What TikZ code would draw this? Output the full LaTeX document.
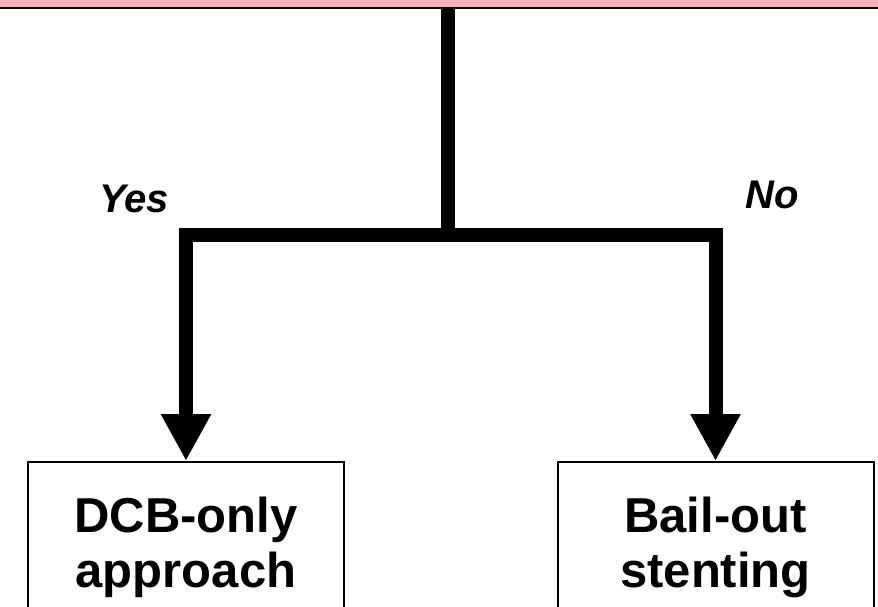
\documentclass[tikz,border=0pt]{standalone}
\usepackage{fontspec}
\setmainfont{Liberation Sans}
\usetikzlibrary{arrows.meta}
\definecolor{qpink}{RGB}{244,180,184}

\begin{document}
\begin{tikzpicture}[x=1pt, y=-1pt,
  box/.style = {draw, line width=2pt, anchor=north, minimum width=316pt,
                minimum height=170pt, inner ysep=24pt, align=center,
                font=\fontsize{49}{55}\selectfont\bfseries},
  answer/.style = {anchor=base, font=\fontsize{40}{44}\selectfont\bfseries\itshape},
  trunk/.style = {line width=14pt},
  branch/.style = {line width=14pt, -{Triangle[width=47pt,length=47pt]}}]

\useasboundingbox (0,0) rectangle (878,606);
\clip (0,0) rectangle (878,606);

%TOP
\node [draw, line width=2.5pt, fill=qpink, anchor=south, minimum width=900pt,
       minimum height=60pt] (question) at (439,9) {};

%SPLIT
\coordinate (split) at (448,235);

%ANSWERS
\node [box] (dcb) at (186,461) {DCB-only\\approach};
\node [box] (bail) at (715.5,461) {Bail-out\\stenting};

\draw [trunk] (question.south -| split) -- (split);
\draw [branch] (split) -| (dcb.north);
\draw [branch] (split) -| (bail.north);

\node [answer] (yes) at (134,212) {Yes};
\node [answer] (no) at (772,208) {No};

\end{tikzpicture}
\end{document}
